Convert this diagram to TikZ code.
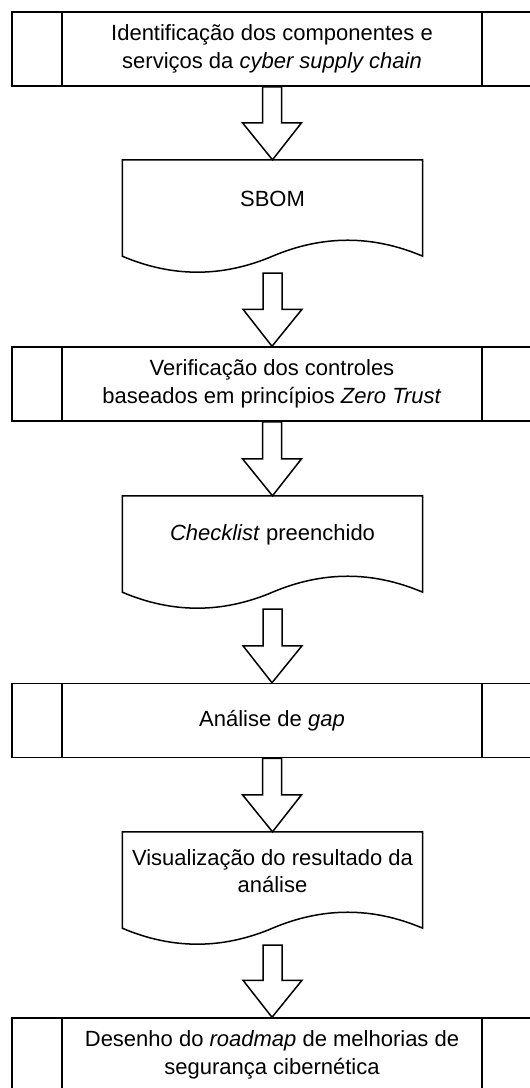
\documentclass[tikz,border=0pt]{standalone}
\usepackage{fontspec}
\setmainfont{Liberation Sans}
\usetikzlibrary{calc}

% outline of a document shape round a text node
\newcommand{\docwave}[1]{%
  \draw[outline] (#1.north west) -- (#1.north east) -- ([yshift=-18pt]#1.south east)
    .. controls ([xshift=-50pt,yshift=3.3pt]#1.south east) and ([xshift=-100pt,yshift=3.3pt]#1.south east) .. ([yshift=-18pt]#1.south)
    .. controls ([xshift=100pt,yshift=-39.3pt]#1.south west) and ([xshift=50pt,yshift=-39.3pt]#1.south west) .. ([yshift=-18pt]#1.south west) -- cycle;}

% hollow block arrow from #1 down to #2
\newcommand{\bigarrow}[2]{%
  \draw[outline] let \p1=(#1), \p2=(#2) in
    (\x1-9.5pt,\y1) -- (\x1-9.5pt,\y2+37pt) -- (\x1-29.5pt,\y2+37pt) -- (\x2,\y2)
    -- (\x1+29.5pt,\y2+37pt) -- (\x1+9.5pt,\y2+37pt) -- (\x1+9.5pt,\y1) -- cycle;}

\begin{document}
\begin{tikzpicture}[x=1pt,y=-1pt,font=\fontsize{22pt}{27.5pt}\selectfont,
    outline/.style={draw,line width=1.5pt},
    process/.style={outline,rectangle,minimum width=520pt,minimum height=74pt,inner sep=0pt,align=center,
      path picture={
        \draw[line width=1.5pt] ([xshift=50pt]path picture bounding box.north west) -- ([xshift=50pt]path picture bounding box.south west);
        \draw[line width=1.5pt] ([xshift=-50pt]path picture bounding box.north east) -- ([xshift=-50pt]path picture bounding box.south east);}},
    document/.style={rectangle,minimum width=300pt,minimum height=78pt,inner sep=0pt,align=center}]
            \useasboundingbox (0,0) rectangle (530,1088);
            \fill[white] (0,0) rectangle (530,1088);
            \clip (0,0) rectangle (530,1088);
            \node[process] (ident) at (272,49) {Identificação dos componentes e\\serviços da \textit{cyber supply chain}};
            \node[document] (sbom) at (272.5,199) {SBOM};
            \node[process] (verif) at (272,384) {Verificação dos controles\\baseados em princípios \textit{Zero Trust}};
            \node[document] (checklist) at (272.5,535) {\textit{Checklist} preenchido};
            \node[process] (gap) at (272,720.5) {Análise de \textit{gap}};
            \node[document] (visual) at (272.5,871) {Visualização do resultado da\\análise};
            \node[process] (roadmap) at (272,1055) {Desenho do \textit{roadmap} de melhorias de\\segurança cibernética};
            \docwave{sbom}
            \docwave{checklist}
            \docwave{visual}
            \bigarrow{ident.south}{sbom.north}
            \bigarrow{[yshift=-35pt]sbom.south}{verif.north}
            \bigarrow{verif.south}{checklist.north}
            \bigarrow{[yshift=-35pt]checklist.south}{gap.north}
            \bigarrow{gap.south}{visual.north}
            \bigarrow{[yshift=-35pt]visual.south}{roadmap.north}
        \end{tikzpicture}
\end{document}
